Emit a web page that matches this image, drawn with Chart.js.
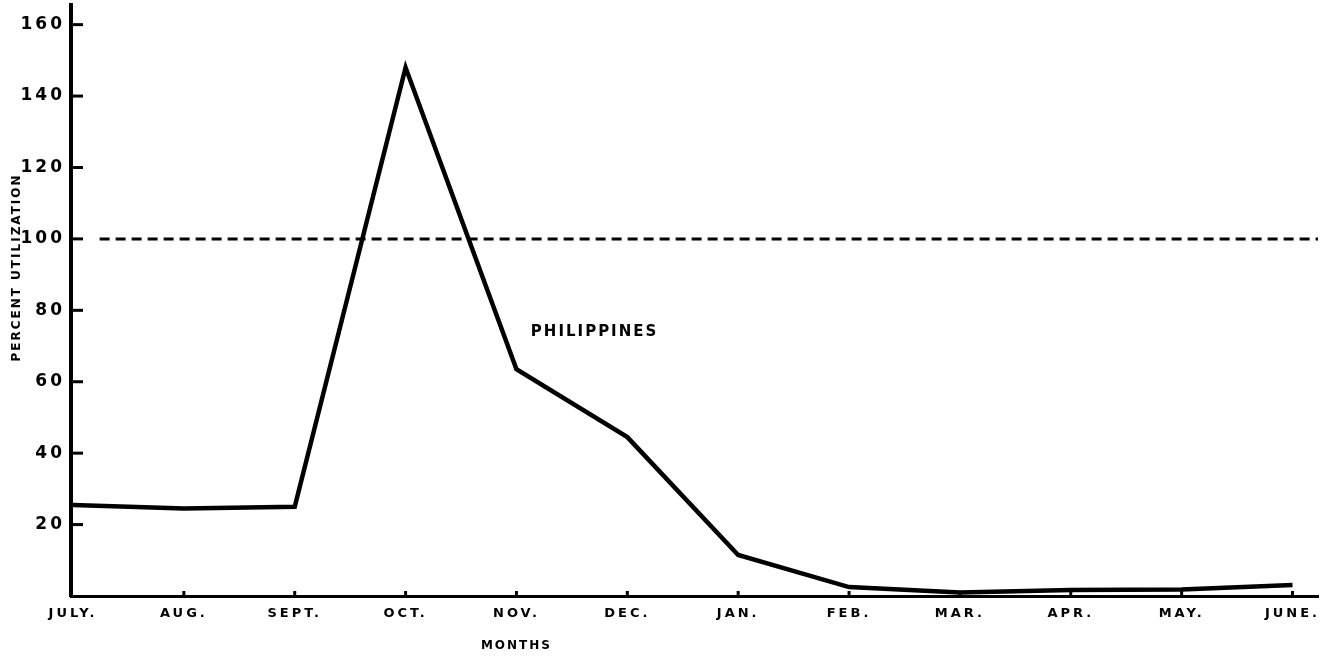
<!DOCTYPE html>
<html>
<head>
<meta charset="utf-8">
<script src="https://cdn.jsdelivr.net/npm/chart.js@4"></script>
<style>
  html, body { margin: 0; padding: 0; background: #fff; }
  #wrap { width: 1330px; height: 659px; }
</style>
</head>
<body>
<div id="wrap"><canvas id="utilChart"></canvas></div>
<script>
// Mesos (juliol - juny)
const months = ['JULY.', 'AUG.', 'SEPT.', 'OCT.', 'NOV.', 'DEC.', 'JAN.', 'FEB.', 'MAR.', 'APR.', 'MAY.', 'JUNE.'];
// Percentatge d'utilització, Filipines
const utilization = [25.5, 24.5, 25, 148, 63.5, 44.5, 11.5, 2.5, 1, 1.7, 1.8, 3.1];
const yTicks = [20, 40, 60, 80, 100, 120, 140, 160];
const fullLevel = 100;
const seriesName = 'PHILIPPINES';

const FONT = '"DejaVu Sans", sans-serif';

// Marques d'eix, títols i etiqueta de la sèrie
const annotate = {
  id: 'annotate',
  beforeDraw(chart) {
    chart.ctx.letterSpacing = '3px';
  },
  afterDraw(chart) {
    const { ctx, chartArea: a } = chart;
    const xs = chart.scales.x, ys = chart.scales.y;
    ctx.save();
    ctx.strokeStyle = '#000';
    ctx.fillStyle = '#000';
    // marques eix Y (cap a dins)
    ctx.lineWidth = 3;
    yTicks.forEach(v => {
      const py = ys.getPixelForValue(v);
      ctx.beginPath();
      ctx.moveTo(a.left, py);
      ctx.lineTo(a.left + 12, py);
      ctx.stroke();
    });
    // petites marques eix X
    months.forEach((m, i) => {
      if (i === 0) return;
      const px = xs.getPixelForValue(i);
      ctx.beginPath();
      ctx.moveTo(px, a.bottom);
      ctx.lineTo(px, a.bottom - 5);
      ctx.stroke();
    });
    ctx.letterSpacing = '2px';
    // títol eix Y
    ctx.font = 'bold 12px ' + FONT;
    ctx.textAlign = 'center';
    ctx.textBaseline = 'middle';
    ctx.save();
    ctx.translate(17, ys.getPixelForValue(92));
    ctx.rotate(-Math.PI / 2);
    ctx.fillText('PERCENT UTILIZATION', 0, 0);
    ctx.restore();
    // títol eix X
    ctx.fillText('MONTHS', xs.getPixelForValue(4), 646);
    // etiqueta sèrie
    ctx.font = 'bold 15px ' + FONT;
    ctx.textAlign = 'left';
    ctx.fillText(seriesName, xs.getPixelForValue(4.13), ys.getPixelForValue(74));
    ctx.restore();
  }
};

function drawChart() {
  const ctx = document.getElementById('utilChart').getContext('2d');
  new Chart(ctx, {
    type: 'line',
    data: {
      datasets: [{
        label: seriesName,
        data: utilization.map((v, i) => ({ x: i, y: v })),
        borderColor: '#000',
        borderWidth: 4.5,
        pointRadius: 0,
        tension: 0,
        fill: false
      }, {
        label: '100%',
        data: [{ x: 0.24, y: fullLevel }, { x: 11.23, y: fullLevel }],
        borderColor: '#000',
        borderWidth: 3,
        borderDash: [10, 6],
        pointRadius: 0,
        fill: false
      }]
    },
    options: {
      responsive: true,
      maintainAspectRatio: false,
      animation: false,
      layout: { padding: { top: 5, right: 12, left: 0, bottom: 0 } },
      plugins: {
        legend: { display: false },
        tooltip: { enabled: false }
      },
      scales: {
        x: {
          type: 'linear',
          min: -0.018,
          max: 11.23,
          afterBuildTicks: s => { s.ticks = months.map((m, i) => ({ value: i })); },
          afterFit: s => { s.height = 63; s.paddingLeft = 0; s.paddingRight = 0; },
          grid: { display: false, drawTicks: false },
          border: { display: true, color: '#000', width: 3 },
          ticks: {
            color: '#000',
            padding: 10,
            maxRotation: 0,
            autoSkip: false,
            font: { family: FONT, size: 13, weight: 'bold' },
            callback: v => months[v]
          }
        },
        y: {
          min: 0,
          max: 165.5,
          afterBuildTicks: s => { s.ticks = yTicks.map(v => ({ value: v })); },
          afterFit: s => { s.width = 71; s.paddingTop = 0; s.paddingBottom = 0; },
          grid: { display: false, drawTicks: false },
          border: { display: true, color: '#000', width: 4 },
          ticks: {
            color: '#000',
            padding: 6,
            font: { family: FONT, size: 17, weight: 'bold' }
          }
        }
      }
    },
    plugins: [annotate]
  });
}

document.addEventListener('DOMContentLoaded', drawChart);
</script>
</body>
</html>
